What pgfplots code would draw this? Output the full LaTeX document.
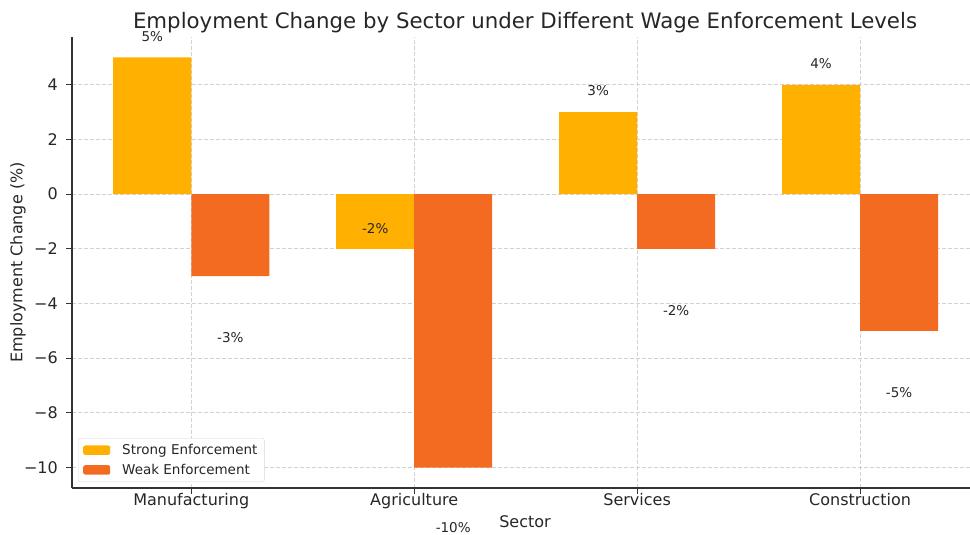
\documentclass[border=0pt]{standalone}
\usepackage{pgfplots}
\pgfplotsset{compat=1.18}
\usepackage{fontspec}
\setmainfont{DejaVu Sans}
\definecolor{strongc}{RGB}{255,176,0}
\definecolor{weakc}{RGB}{243,107,33}
\definecolor{txt}{RGB}{38,38,38}
\begin{document}
\begin{tikzpicture}
\begin{axis}[
  scale only axis,
  width=898pt, height=451pt,
  xmin=-0.535, xmax=3.493,
  ymin=-10.75, ymax=5.75,
  clip=false,
  axis x line*=bottom, axis y line*=left,
  x axis line style={-}, y axis line style={-},
  axis line style={black!80, line width=1.3pt},
  tick align=outside, major tick length=6pt,
  tick style={black!80, line width=1pt},
  xtick={0,1,2,3},
  xticklabels={Manufacturing,Agriculture,Services,Construction},
  ytick={-10,-8,-6,-4,-2,0,2,4},
  yticklabels={−10,−8,−6,−4,−2,0,2,4},
  ticklabel style={font=\fontsize{16}{19}\selectfont, text=txt},
  xticklabel style={anchor=base, inner sep=0pt, yshift=-11pt},
  yticklabel style={anchor=east, inner sep=0pt, xshift=-8pt},
  grid=major,
  major grid style={dash pattern=on 4pt off 2pt, gray!35, line width=0.9pt},
  title={Employment Change by Sector under Different Wage Enforcement Levels},
  title style={at={(axis description cs:0.5045,1)}, anchor=base, yshift=2pt, inner sep=0pt, font=\fontsize{21.3}{25}\selectfont, text=txt},
  xlabel={Sector},
  xlabel style={at={(axis description cs:0.5045,0)}, anchor=base, inner sep=0pt, yshift=-39pt, font=\fontsize{16}{19}\selectfont, text=txt},
  ylabel={Employment Change (\%)},
  ylabel style={at={(axis description cs:-0.0601,0.5)}, anchor=center, inner sep=0pt, font=\fontsize{16}{19}\selectfont, text=txt},
  legend style={at={(axis description cs:0.0067,0.0133)}, anchor=south west,
    draw=gray!30, rounded corners=2pt, fill=white,
    font=\fontsize{13.5}{16}\selectfont, text=txt, inner xsep=5pt, inner ysep=4pt, row sep=4pt,
    /tikz/every odd column/.style={column sep=10pt}},
  legend cell align=left,
  legend image code/.code={\fill[#1] (0pt,-4.7pt) rectangle (27pt,4.7pt);},
]
\addplot[ybar, bar width=0.35, bar shift=0pt, fill=strongc, draw=none] coordinates {(-0.175,5) (0.825,-2) (1.825,3) (2.825,4)};
\addlegendentry{Strong Enforcement}
\addplot[ybar, bar width=0.35, bar shift=0pt, fill=weakc, draw=none] coordinates {(0.175,-3) (1.175,-10) (2.175,-2) (3.175,-5)};
\addlegendentry{Weak Enforcement}
\addplot[draw=none, mark=none, nodes near coords, point meta=explicit symbolic,
  nodes near coords style={anchor=center, inner sep=0pt, font=\fontsize{13.5}{16}\selectfont, text=txt}]
  table[meta=lab] {
x y lab
-0.175 5.76 5\%
0.825 -1.25 -2\%
1.825 3.78 3\%
2.825 4.77 4\%
0.175 -5.25 -3\%
1.175 -12.2 -10\%
2.175 -4.26 -2\%
3.175 -7.27 -5\%
};
\coordinate (ll) at (rel axis cs:0,0);
\coordinate (ur) at (rel axis cs:1,1);
\end{axis}
\pgfresetboundingbox
\path[use as bounding box] ([xshift=-72pt,yshift=-46pt]ll) rectangle ([yshift=37pt]ur);
\end{tikzpicture}
\end{document}
